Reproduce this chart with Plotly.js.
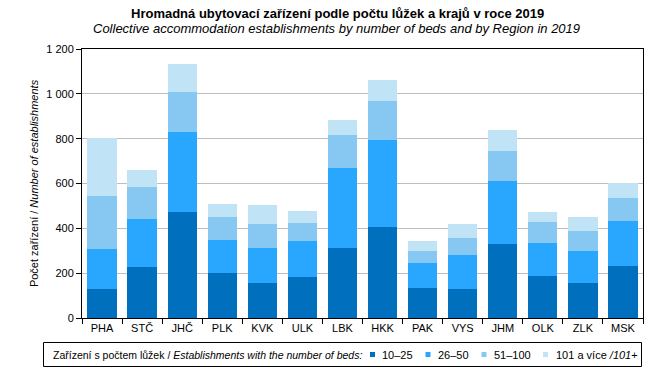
<!DOCTYPE html>
<html>
<head>
<meta charset="utf-8">
<script src="https://cdn.plot.ly/plotly-3.0.1.min.js"></script>
<style>html,body{margin:0;padding:0;background:#fff;}#chart{width:672px;height:378px;}</style>
</head>
<body>
<div id="chart"></div>
<script>
const regions = ["PHA","STČ","JHČ","PLK","KVK","ULK","LBK","HKK","PAK","VYS","JHM","OLK","ZLK","MSK"];
const beds10to25 = [130, 228, 473, 202, 157, 184, 313, 407, 135, 130, 331, 188, 157, 233];
const beds26to50 = [179, 214, 357, 147, 156, 160, 356, 387, 111, 152, 281, 147, 143, 200];
const beds51to100 = [236, 143, 178, 102, 107, 80, 148, 174, 54, 76, 133, 94, 89, 103];
const beds101plus = [258, 76, 125, 58, 85, 54, 66, 93, 44, 62, 94, 44, 62, 67];
const seriesNames = ["10–25", "26–50", "51–100", "101 a více <i>/101</i>+"];
const legendTitle = "Zařízení s počtem lůžek / <i>Establishments with the number of beds:</i>";
const titleMain = "<b>Hromadná ubytovací zařízení podle počtu lůžek a krajů v roce 2019</b>";
const titleSub = "<i>Collective accommodation establishments by number of beds and by Region in 2019</i>";
const yTitle = "Počet zařízení / <i>Number of establishments</i>";
const colors = ["#0070BE", "#29A7FF", "#86C8F1", "#C0E3F6"];

const W = 672, H = 378;
const M = {l: 82, r: 29, t: 49, b: 60};
const PW = W - M.l - M.r, PH = H - M.t - M.b;
const px = x => (x - M.l) / PW;
const py = y => (H - M.b - y) / PH;

const data = [beds10to25, beds26to50, beds51to100, beds101plus].map((vals, i) => ({
  type: "bar",
  x: regions,
  y: vals,
  name: seriesNames[i],
  marker: {color: colors[i], line: {width: 0}},
  hoverinfo: "none",
  showlegend: false
}));

const font = "Liberation Sans, Arial, sans-serif";
const annotations = [
  {text: titleMain, xref: "paper", yref: "paper", x: px(337), y: py(13), xanchor: "center", yanchor: "middle", showarrow: false, font: {size: 13, family: font}},
  {text: titleSub, xref: "paper", yref: "paper", x: px(336), y: py(29), xanchor: "center", yanchor: "middle", showarrow: false, font: {size: 13, family: font}},
  {text: legendTitle, xref: "paper", yref: "paper", x: px(51), y: py(354.5), xanchor: "left", yanchor: "middle", showarrow: false, font: {size: 10.5, family: font}}
];
const legendTextX = [380, 436, 492, 554];
const legendSqX = [370, 425.5, 481.5, 543];
const shapes = [
  {type: "rect", xref: "paper", yref: "paper", x0: px(43.5), x1: px(641.5), y0: py(342.5), y1: py(366.5), line: {color: "#000", width: 1}, fillcolor: "rgba(0,0,0,0)"}
];
seriesNames.forEach((n, i) => {
  annotations.push({text: n, xref: "paper", yref: "paper", x: px(legendTextX[i]), y: py(354.5), xanchor: "left", yanchor: "middle", showarrow: false, font: {size: 11, family: font}});
  shapes.push({type: "rect", xref: "paper", yref: "paper", x0: px(legendSqX[i]), x1: px(legendSqX[i] + 5), y0: py(352), y1: py(357), line: {width: 0}, fillcolor: colors[i]});
});

const layout = {
  width: W, height: H,
  barmode: "stack",
  bargap: 0.27,
  separators: ", ",
  paper_bgcolor: "#fff",
  plot_bgcolor: "#fff",
  font: {family: font, size: 11, color: "#000"},
  margin: M,
  xaxis: {
    type: "category",
    showline: true, linecolor: "#000", linewidth: 1, mirror: true,
    ticks: "outside", ticklen: 5, tickcolor: "#000",
    tickson: "boundaries",
    showgrid: false,
    tickfont: {size: 11}
  },
  yaxis: {
    range: [0, 1200], dtick: 200,
    tickformat: ",d",
    showline: true, linecolor: "#000", linewidth: 1, mirror: true,
    ticks: "outside", ticklen: 5, tickcolor: "#000",
    showgrid: true, gridcolor: "#BDBDBD", gridwidth: 1,
    zeroline: false,
    tickfont: {size: 11},
    title: {text: yTitle, font: {size: 11}, standoff: 5}
  },
  showlegend: false,
  annotations: annotations,
  shapes: shapes
};

Plotly.newPlot("chart", data, layout, {displayModeBar: false, staticPlot: true});
</script>
</body>
</html>
